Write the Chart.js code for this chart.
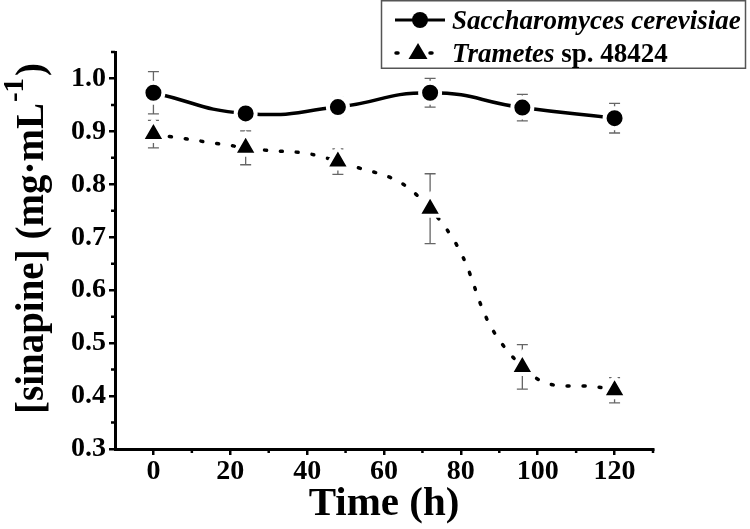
<!DOCTYPE html>
<html>
<head>
<meta charset="utf-8">
<script src="https://cdn.jsdelivr.net/npm/chart.js@4/dist/chart.umd.min.js"></script>
<style>
  html, body { margin: 0; padding: 0; background: #fff; }
  #wrap { width: 750px; height: 529px; }
</style>
</head>
<body>
<div id="wrap"><canvas id="c" width="750" height="529"></canvas></div>
<script>
// ---- data ----
const timeH = [0, 24, 48, 72, 96, 120];
const saccharomyces = [0.973, 0.934, 0.946, 0.973, 0.945, 0.925];
const saccharomycesErr = [0.040, 0.015, 0.018, 0.027, 0.025, 0.028];
const trametes = [0.895, 0.869, 0.843, 0.754, 0.455, 0.411];
const trametesErr = [0.026, 0.032, 0.024, 0.066, 0.042, 0.024];
const seriesLabels = ["Saccharomyces cerevisiae", "Trametes sp. 48424"];
const italicParts = ["Saccharomyces cerevisiae", "Trametes"];
const xTicks = [0, 20, 40, 60, 80, 100, 120];
const xMinorTicks = [10, 30, 50, 70, 90, 110, 130];
const yTicks = [0.3, 0.4, 0.5, 0.6, 0.7, 0.8, 0.9, 1.0];
const yMinorTicks = [0.35, 0.45, 0.55, 0.65, 0.75, 0.85, 0.95, 1.05];
const xTitle = "Time (h)";
const yTitleMain = "[sinapine] (mg\u00B7mL";
const yTitleSup = "-1";
const yTitleEnd = ")";

const SERIF = "'Liberation Serif', 'Times New Roman', serif";

function pts(xs, ys) { return xs.map((x, i) => ({ x: x, y: ys[i] })); }

const errorBars = {
  id: 'errorBars',
  beforeDatasetsDraw(chart) {
    const ctx = chart.ctx, xs = chart.scales.x, ys = chart.scales.y;
    const sets = [[saccharomyces, saccharomycesErr], [trametes, trametesErr]];
    ctx.save();
    ctx.strokeStyle = '#666';
    ctx.lineWidth = 1.3;
    sets.forEach(([vals, errs]) => {
      vals.forEach((v, i) => {
        const px = xs.getPixelForValue(timeH[i]);
        const top = ys.getPixelForValue(v + errs[i]);
        const bot = ys.getPixelForValue(v - errs[i]);
        ctx.beginPath();
        ctx.moveTo(px, top); ctx.lineTo(px, bot);
        ctx.moveTo(px - 5.5, top); ctx.lineTo(px + 5.5, top);
        ctx.moveTo(px - 5.5, bot); ctx.lineTo(px + 5.5, bot);
        ctx.stroke();
      });
    });
    ctx.restore();
  }
};

const extras = {
  id: 'extras',
  afterDraw(chart) {
    const ctx = chart.ctx, xs = chart.scales.x, ys = chart.scales.y, ca = chart.chartArea;
    ctx.save();
    // minor ticks
    ctx.strokeStyle = '#000';
    ctx.lineWidth = 2.5;
    ctx.beginPath();
    xMinorTicks.forEach(v => {
      const p = xs.getPixelForValue(v);
      ctx.moveTo(p, ca.bottom); ctx.lineTo(p, ca.bottom + 4);
    });
    yMinorTicks.forEach(v => {
      const p = ys.getPixelForValue(v);
      ctx.moveTo(ca.left, p); ctx.lineTo(ca.left - 4, p);
    });
    ctx.stroke();

    // y axis title (rotated, with superscript)
    ctx.fillStyle = '#000';
    ctx.translate(43, 240);
    ctx.rotate(-Math.PI / 2);
    const fMain = "bold 39px " + SERIF, fSup = "bold 29px " + SERIF;
    ctx.font = fMain;
    const w1 = ctx.measureText(yTitleMain).width;
    const w3 = ctx.measureText(yTitleEnd).width;
    ctx.font = fSup;
    const w2 = ctx.measureText(yTitleSup).width;
    let x0 = -(w1 + w2 + w3) / 2;
    ctx.textBaseline = 'alphabetic';
    ctx.textAlign = 'left';
    ctx.font = fMain; ctx.fillText(yTitleMain, x0, 0);
    ctx.font = fSup; ctx.fillText(yTitleSup, x0 + w1 + 1, -20);
    ctx.font = fMain; ctx.fillText(yTitleEnd, x0 + w1 + w2 + 3, 0);
    ctx.setTransform(1, 0, 0, 1, 0, 0);

    // legend
    ctx.strokeStyle = '#555';
    ctx.lineWidth = 1.5;
    ctx.strokeRect(381.5, 0.75, 364, 67.5);
    // row 1
    ctx.strokeStyle = '#000';
    ctx.lineWidth = 3;
    ctx.beginPath(); ctx.moveTo(395, 20); ctx.lineTo(445, 20); ctx.stroke();
    ctx.beginPath(); ctx.arc(420, 20, 8, 0, Math.PI * 2); ctx.fill();
    ctx.textBaseline = 'alphabetic';
    ctx.font = "italic bold 27px " + SERIF;
    ctx.fillText(italicParts[0], 452, 29);
    const rest0 = seriesLabels[0].slice(italicParts[0].length);
    if (rest0) { const w = ctx.measureText(italicParts[0]).width; ctx.font = "bold 27px " + SERIF; ctx.fillText(rest0, 452 + w, 29); }
    // row 2
    ctx.lineWidth = 3.5;
    ctx.lineCap = 'round';
    ctx.beginPath(); ctx.moveTo(396, 53); ctx.lineTo(398, 53); ctx.moveTo(430, 53); ctx.lineTo(432, 53); ctx.stroke();
    ctx.beginPath(); ctx.moveTo(418, 43); ctx.lineTo(427.5, 59); ctx.lineTo(408.5, 59); ctx.closePath(); ctx.fill();
    ctx.font = "italic bold 27px " + SERIF;
    ctx.fillText(italicParts[1], 452, 62);
    const wi = ctx.measureText(italicParts[1]).width;
    ctx.font = "bold 27px " + SERIF;
    ctx.fillText(seriesLabels[1].slice(italicParts[1].length), 452 + wi, 62);
    ctx.restore();
  }
};

new Chart(document.getElementById('c'), {
  type: 'line',
  data: {
    datasets: [
      {
        label: seriesLabels[0],
        data: pts(timeH, saccharomyces),
        borderColor: '#000',
        borderWidth: 3.5,
        tension: 0.5,
        pointStyle: 'circle',
        pointRadius: 10,
        pointBackgroundColor: '#000',
        pointBorderColor: '#fff',
        pointBorderWidth: 4,
        fill: false
      },
      {
        label: seriesLabels[1],
        data: pts(timeH, trametes),
        borderColor: '#000',
        borderWidth: 3.5,
        borderDash: [2, 14],
        borderCapStyle: 'round',
        tension: 0.5,
        pointStyle: 'triangle',
        pointRadius: 14,
        pointBackgroundColor: '#000',
        pointBorderColor: '#fff',
        pointBorderWidth: 4,
        fill: false
      }
    ]
  },
  options: {
    responsive: false,
    animation: false,
    devicePixelRatio: 1,
    layout: { padding: { left: 0, right: 97, top: 52, bottom: 0 } },
    plugins: { legend: { display: false }, tooltip: { enabled: false }, title: { display: false } },
    scales: {
      x: {
        type: 'linear',
        min: -10, max: 130,
        afterBuildTicks: s => { s.ticks = xTicks.map(v => ({ value: v })); },
        afterFit: s => { s.height = 80; },
        border: { color: '#000', width: 3 },
        grid: { drawOnChartArea: false, drawTicks: true, tickLength: 6, color: '#000', lineWidth: 2.5 },
        ticks: { color: '#000', font: { family: SERIF, size: 28, weight: 'bold', lineHeight: 1.0 }, padding: 3, maxRotation: 0, callback: v => String(v) },
        title: { display: true, text: xTitle, color: '#000', font: { family: SERIF, size: 41, weight: 'bold', lineHeight: 1.2 }, padding: { top: 0, bottom: 0 } }
      },
      y: {
        type: 'linear',
        min: 0.3, max: 1.05,
        afterBuildTicks: s => { s.ticks = yTicks.map(v => ({ value: v })); },
        afterFit: s => { s.width = 115; },
        border: { color: '#000', width: 3 },
        grid: { drawOnChartArea: false, drawTicks: true, tickLength: 6, color: '#000', lineWidth: 2.5 },
        ticks: { color: '#000', font: { family: SERIF, size: 28, weight: 'bold' }, padding: 3, callback: v => Number(v).toFixed(1) }
      }
    }
  },
  plugins: [errorBars, extras]
});
</script>
</body>
</html>
